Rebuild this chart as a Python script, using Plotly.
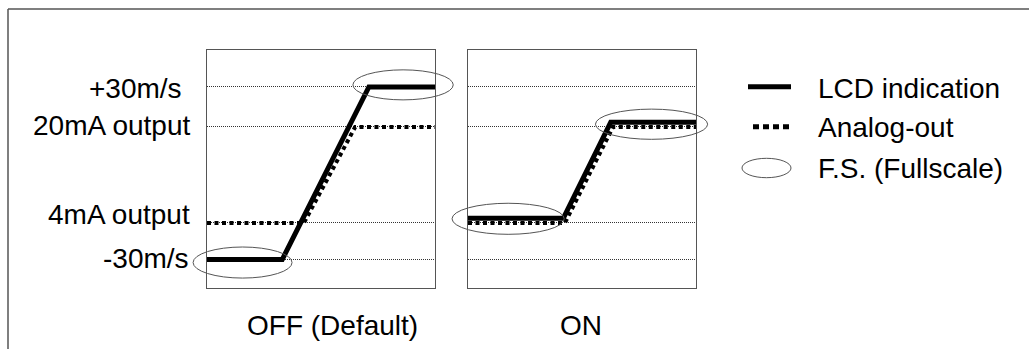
import plotly.graph_objects as go

# ---------------- data (chart units: LCD -30m/s = 0, +30m/s = 100) ----------------
level_names = ["-30m/s", "4mA output", "20mA output", "+30m/s"]
level_values = [0, 21.2, 76.8, 100]

off_lcd_x = [0, 33, 71, 100]
off_lcd_y = [0, 0, 100, 100]
off_ana_x = [0, 42.5, 65, 100]
off_ana_y = [21.2, 21.2, 76.8, 76.8]

on_lcd_x = [0, 41.8, 62.6, 100]
on_lcd_y = [23.9, 23.9, 79.5, 79.5]
on_ana_x = [0, 42.5, 63.6, 100]
on_ana_y = [21.2, 21.2, 76.8, 76.8]

# full-scale ellipses: (center x, center y, half-width, half-height) in chart units
off_fs = [(15.6, -1.75, 21.7, 9.0), (86.0, 101.2, 22.0, 8.7)]
on_fs = [(17.6, 23.6, 24.6, 9.0), (80.5, 78.4, 24.6, 8.75)]

panel_titles = ["OFF (Default)", "ON"]
legend_names = ["LCD indication", "Analog-out", "F.S. (Fullscale)"]

# ---------------- layout constants ----------------
W, H = 1029, 349
FONT = "Liberation Sans, Arial, sans-serif"
FS = 28
XR = [0, 100]
YR = [-16.5, 121.4]


def px(x):
    return x / W


def py(y):
    return 1 - y / H


dom1 = [px(207), px(435)]
dom2 = [px(468), px(696)]
ydom = [py(288), py(50)]

fig = go.Figure()

for (xs, ys, xa, ya) in [
    (off_ana_x, off_ana_y, "x", "y"),
    (on_ana_x, on_ana_y, "x2", "y2"),
]:
    fig.add_trace(go.Scatter(x=xs, y=ys, xaxis=xa, yaxis=ya, mode="lines",
                             line=dict(color="black", width=4, dash="4px,3.5px"),
                             showlegend=False, hoverinfo="skip"))
for (xs, ys, xa, ya) in [
    (off_lcd_x, off_lcd_y, "x", "y"),
    (on_lcd_x, on_lcd_y, "x2", "y2"),
]:
    fig.add_trace(go.Scatter(x=xs, y=ys, xaxis=xa, yaxis=ya, mode="lines",
                             line=dict(color="black", width=5),
                             showlegend=False, hoverinfo="skip"))

axis_common = dict(showline=True, mirror=True, linecolor="#555", linewidth=1,
                   showticklabels=False, ticks="", zeroline=False)
fig.update_layout(
    width=W, height=H,
    margin=dict(l=0, r=0, t=0, b=0),
    paper_bgcolor="white", plot_bgcolor="white",
    showlegend=False,
    xaxis=dict(domain=dom1, range=XR, showgrid=False, **axis_common),
    xaxis2=dict(domain=dom2, range=XR, showgrid=False, anchor="y2", **axis_common),
    yaxis=dict(domain=ydom, range=YR, tickvals=level_values, showgrid=True,
               gridcolor="#333", gridwidth=1, griddash="1px,1px", **axis_common),
    yaxis2=dict(domain=ydom, range=YR, tickvals=level_values, showgrid=True, anchor="x2",
                gridcolor="#333", gridwidth=1, griddash="1px,1px", **axis_common),
)


def to_dom(v, r):
    return (v - r[0]) / (r[1] - r[0])


shapes = []
for ell, xa, ya in [(off_fs, "x", "y"), (on_fs, "x2", "y2")]:
    for cx, cy, rx, ry in ell:
        shapes.append(dict(type="circle", xref=f"{xa} domain", yref=f"{ya} domain",
                           x0=to_dom(cx - rx, XR), x1=to_dom(cx + rx, XR),
                           y0=to_dom(cy - ry, YR), y1=to_dom(cy + ry, YR),
                           line=dict(color="#555", width=1)))

# outer frame
shapes.append(dict(type="line", xref="paper", yref="paper", x0=px(8), x1=1, y0=py(9), y1=py(9),
                   line=dict(color="#555", width=1.5)))
shapes.append(dict(type="line", xref="paper", yref="paper", x0=px(8), x1=px(8), y0=py(9), y1=0,
                   line=dict(color="#555", width=1.5)))

# legend samples
shapes.append(dict(type="line", xref="paper", yref="paper", x0=px(748), x1=px(791),
                   y0=py(86.7), y1=py(86.7), line=dict(color="black", width=5)))
shapes.append(dict(type="line", xref="paper", yref="paper", x0=px(753), x1=px(791),
                   y0=py(126.7), y1=py(126.7), line=dict(color="black", width=5, dash="6px,4px")))
shapes.append(dict(type="circle", xref="paper", yref="paper", x0=px(742), x1=px(791),
                   y0=py(177.7), y1=py(158.3), line=dict(color="#555", width=1)))
fig.update_layout(shapes=shapes)

annots = []
label_right = {"+30m/s": 184, "20mA output": 192, "4mA output": 192, "-30m/s": 191}
label_shift = {"+30m/s": -2, "20mA output": 1.5, "4mA output": 8, "-30m/s": 1.5}
for name, val in zip(level_names, level_values):
    annots.append(dict(text=name, xref="paper", yref="y", x=px(label_right[name]), y=val,
                       xanchor="right", yanchor="middle", yshift=label_shift[name],
                       showarrow=False, font=dict(family=FONT, size=FS, color="black")))

for title, xa, shift in zip(panel_titles, ["x", "x2"], [11.5, -1]):
    annots.append(dict(text=title, xref=f"{xa} domain", yref="paper", x=0.5, y=py(325),
                       xanchor="center", yanchor="middle", xshift=shift,
                       showarrow=False, font=dict(family=FONT, size=FS, color="black")))

for name, yy in zip(legend_names, [88.7, 127.8, 168.3]):
    annots.append(dict(text=name, xref="paper", yref="paper", x=px(816), y=py(yy),
                       xanchor="left", yanchor="middle",
                       showarrow=False, font=dict(family=FONT, size=FS, color="black")))

fig.update_layout(annotations=annots)

fig.write_html("out.html", config={"displayModeBar": False},
               post_script="document.body.style.margin='0';document.body.style.overflow='hidden';")
